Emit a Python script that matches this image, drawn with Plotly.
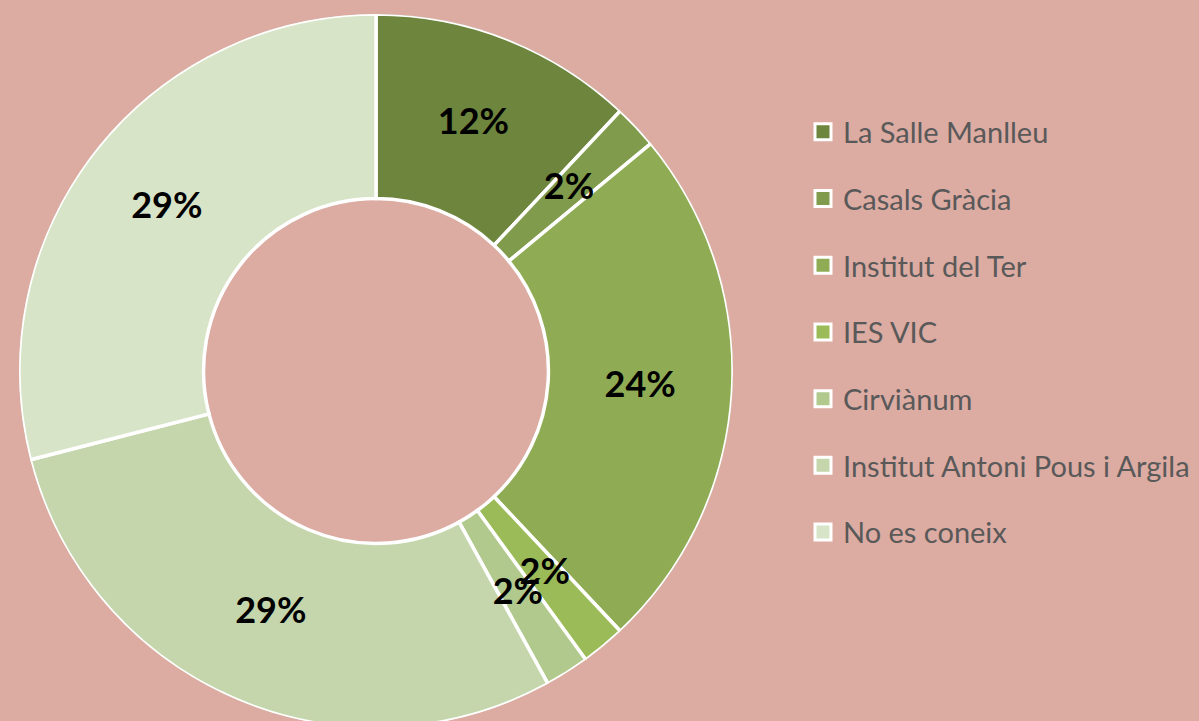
import plotly.graph_objects as go

labels = ["La Salle Manlleu", "Casals Gràcia", "Institut del Ter", "IES VIC",
          "Cirviànum", "Institut Antoni Pous i Argila", "No es coneix"]
values = [12, 2, 24, 2, 2, 29, 29]
colors = ["#6E853E", "#7F9B4B", "#8FAC54", "#9BBB59", "#B1C98D", "#C5D6AC", "#D8E4C7"]

BG = "#DCABA2"
W, H = 1199, 742
HOLE = 0.483

total = sum(values)
widths = [v / total * 360 for v in values]
mids = []
acc = 0.0
for w in widths:
    mids.append(acc + w / 2)
    acc += w
pct_text = [f"{round(v / total * 100)}%" for v in values]

fig = go.Figure()
fig.add_trace(go.Barpolar(
    theta=mids, width=widths, r=[1 - HOLE] * len(values), base=HOLE,
    marker=dict(color=colors, line=dict(color="white", width=3.5)),
    showlegend=False, hoverinfo="skip",
))
fig.add_trace(go.Scatterpolar(
    theta=mids, r=[(1 + HOLE) / 2] * len(values), mode="text", text=pct_text,
    textposition="middle center",
    textfont=dict(family="Lato", size=36, color="black", weight="bold"),
    showlegend=False, hoverinfo="skip",
))
for name, col in zip(labels, colors):
    fig.add_trace(go.Scatterpolar(
        r=[None], theta=[None], mode="markers", name=name, legendgroup=name,
        marker=dict(symbol="square", size=17, color=col, line=dict(color="white", width=3)),
    ))

fig.update_layout(
    width=W, height=H,
    margin=dict(l=0, r=0, t=0, b=0),
    paper_bgcolor=BG, plot_bgcolor=BG,
    polar=dict(
        domain=dict(x=[19 / W, 733 / W], y=[0, 1]),
        bgcolor="rgba(0,0,0,0)",
        radialaxis=dict(visible=False, range=[0, 1]),
        angularaxis=dict(visible=False, rotation=90, direction="clockwise"),
    ),
    legend=dict(
        x=803 / W, xanchor="left", y=1 - 332 / H, yanchor="middle",
        font=dict(family="Lato", size=29, color="#595959"),
        tracegroupgap=26, bgcolor="rgba(0,0,0,0)", itemsizing="trace",
    ),
)

fig.write_html(
    "out.html",
    config={"displayModeBar": False},
    post_script="document.body.style.margin='0';document.body.style.overflow='hidden';"
                "document.documentElement.style.overflow='hidden';",
)
